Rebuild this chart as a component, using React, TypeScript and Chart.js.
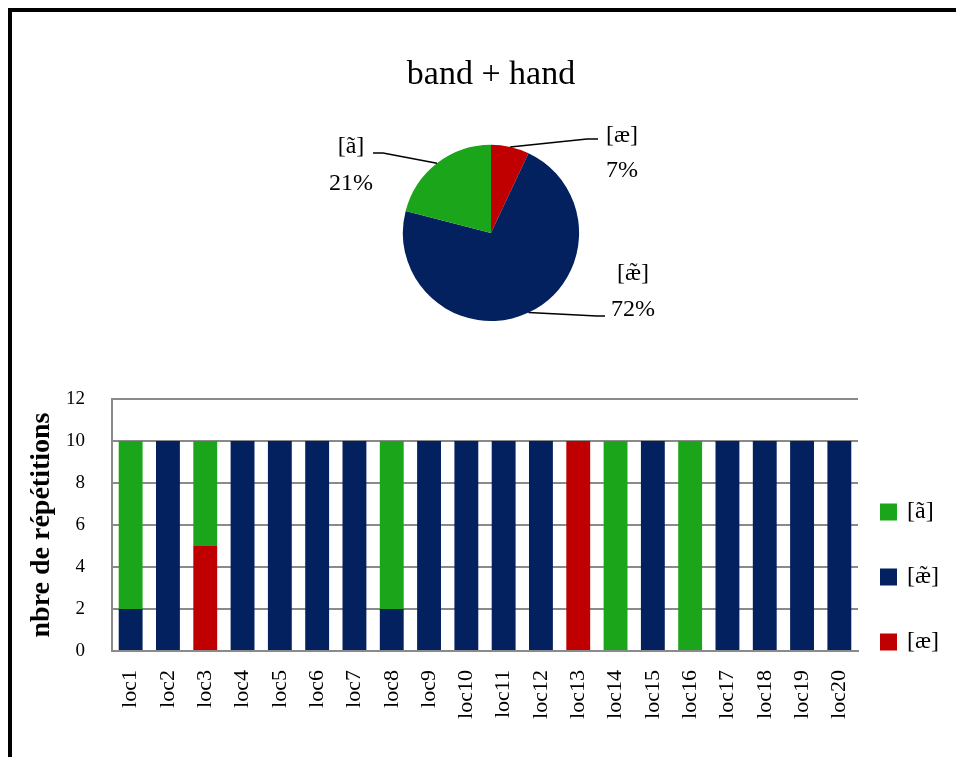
import React, { useEffect, useRef } from "react";
import { Chart, registerables } from "chart.js";

Chart.register(...registerables);

const FONT = "'Liberation Serif', 'Times New Roman', serif";

// ---------- data ----------
const categories = [
  "loc1", "loc2", "loc3", "loc4", "loc5", "loc6", "loc7", "loc8", "loc9", "loc10",
  "loc11", "loc12", "loc13", "loc14", "loc15", "loc16", "loc17", "loc18", "loc19", "loc20",
];
// stacked bottom -> top: [æ], [æ̃], [ã]
const seriesAe = [0, 0, 5, 0, 0, 0, 0, 0, 0, 0, 0, 0, 10, 0, 0, 0, 0, 0, 0, 0];
const seriesAeNasal = [2, 10, 0, 10, 10, 10, 10, 2, 10, 10, 10, 10, 0, 0, 10, 0, 10, 10, 10, 10];
const seriesANasal = [8, 0, 5, 0, 0, 0, 0, 8, 0, 0, 0, 0, 0, 10, 0, 10, 0, 0, 0, 0];
const yTicks = [0, 2, 4, 6, 8, 10, 12];

const pieLabels = ["[æ]", "[æ̃]", "[ã]"];
const pieValues = [7, 72, 21];

const pieTitle = "band + hand";
const yAxisTitle = "nbre de répétitions";

const COLOR_AE = "#C00000";
const COLOR_AE_NASAL = "#03205F";
const COLOR_A_NASAL = "#1AA51A";
const GRID = "#8a8a8a";

// ---------- pie label layout (offsets from pie centre, px) ----------
const pieLabelLayout = [
  { elbow: [96, -94], end: [107, -94], tx: 131, ty1: -97, ty2: -62 },
  { elbow: [106, 83], end: [114, 83], tx: 142, ty1: 41, ty2: 77 },
  { elbow: [-108, -80], end: [-118, -80], tx: -140, ty1: -86, ty2: -49 },
];

const pieLabelsPlugin = {
  id: "pieLabels",
  afterDatasetsDraw(chart: any) {
    const ctx = chart.ctx;
    const meta = chart.getDatasetMeta(0);
    const data = chart.data.datasets[0].data as number[];
    const total = data.reduce((a, b) => a + b, 0);
    meta.data.forEach((arc: any, i: number) => {
      const { x, y, startAngle, endAngle, outerRadius } = arc.getProps(
        ["x", "y", "startAngle", "endAngle", "outerRadius"],
        true
      );
      const mid = (startAngle + endAngle) / 2;
      const ex = x + outerRadius * Math.cos(mid);
      const ey = y + outerRadius * Math.sin(mid);
      const L = pieLabelLayout[i];
      ctx.save();
      ctx.strokeStyle = "#000";
      ctx.lineWidth = 1.5;
      ctx.beginPath();
      ctx.moveTo(ex, ey);
      ctx.lineTo(x + L.elbow[0], y + L.elbow[1]);
      ctx.lineTo(x + L.end[0], y + L.end[1]);
      ctx.stroke();
      ctx.fillStyle = "#000";
      ctx.font = `24px ${FONT}`;
      ctx.textAlign = "center";
      ctx.textBaseline = "middle";
      ctx.fillText(chart.data.labels[i], x + L.tx, y + L.ty1);
      ctx.fillText(Math.round((data[i] / total) * 100) + "%", x + L.tx, y + L.ty2);
      ctx.restore();
    });
  },
};

// ---------- bar legend (drawn beside the plot) ----------
const legendLayout = { boxX: 22, textX: 49, box: 17, rows: [113, 178, 243] };

const sideLegendPlugin = {
  id: "sideLegend",
  afterDraw(chart: any) {
    const { ctx, chartArea } = chart;
    const ds = chart.data.datasets.slice().reverse();
    ctx.save();
    ds.forEach((d: any, i: number) => {
      const cy = chartArea.top + legendLayout.rows[i];
      ctx.fillStyle = d.backgroundColor;
      ctx.fillRect(
        chartArea.right + legendLayout.boxX,
        cy - legendLayout.box / 2,
        legendLayout.box,
        legendLayout.box
      );
      ctx.fillStyle = "#000";
      ctx.font = `24px ${FONT}`;
      ctx.textAlign = "left";
      ctx.textBaseline = "middle";
      ctx.fillText(d.label, chartArea.right + legendLayout.textX, cy);
    });
    ctx.restore();
  },
};

function PieChart() {
  const ref = useRef<HTMLCanvasElement | null>(null);
  useEffect(() => {
    if (!ref.current) return;
    const chart = new Chart(ref.current, {
      type: "pie",
      data: {
        labels: pieLabels,
        datasets: [
          {
            data: pieValues,
            backgroundColor: [COLOR_AE, COLOR_AE_NASAL, COLOR_A_NASAL],
            borderWidth: 0,
          },
        ],
      },
      options: {
        responsive: false,
        animation: false,
        layout: { padding: { left: 6, right: 0, top: 0, bottom: 21 } },
        plugins: {
          legend: { display: false },
          tooltip: { enabled: false },
          title: {
            display: true,
            text: pieTitle,
            color: "#000",
            font: { family: FONT, size: 34, weight: "normal", lineHeight: 1.2 },
            padding: { top: 43, bottom: 49 },
          },
        },
      },
      plugins: [pieLabelsPlugin],
    } as any);
    return () => chart.destroy();
  }, []);
  return (
    <canvas
      ref={ref}
      width={952}
      height={330}
      style={{ position: "absolute", left: 0, top: 0, display: "block" }}
    />
  );
}

function BarChart() {
  const ref = useRef<HTMLCanvasElement | null>(null);
  useEffect(() => {
    if (!ref.current) return;
    const common = { borderWidth: 0, barPercentage: 0.64, categoryPercentage: 1 };
    const chart = new Chart(ref.current, {
      type: "bar",
      data: {
        labels: categories,
        datasets: [
          { label: "[æ]", data: seriesAe, backgroundColor: COLOR_AE, ...common },
          { label: "[æ̃]", data: seriesAeNasal, backgroundColor: COLOR_AE_NASAL, ...common },
          { label: "[ã]", data: seriesANasal, backgroundColor: COLOR_A_NASAL, ...common },
        ],
      },
      options: {
        responsive: false,
        animation: false,
        layout: { padding: { top: 19, right: 106, bottom: 0, left: 0 } },
        plugins: {
          legend: { display: false },
          tooltip: { enabled: false },
        },
        scales: {
          x: {
            stacked: true,
            grid: { display: false, drawTicks: false },
            border: { display: true, color: GRID, width: 2 },
            ticks: {
              autoSkip: false,
              maxRotation: 90,
              minRotation: 90,
              padding: 19,
              color: "#000",
              font: { family: FONT, size: 22 },
            },
            afterFit: (s: any) => {
              s.height = 114;
            },
          },
          y: {
            stacked: true,
            min: yTicks[0],
            max: yTicks[yTicks.length - 1],
            ticks: {
              stepSize: yTicks[1] - yTicks[0],
              padding: 27,
              color: "#000",
              font: { family: FONT, size: 19 },
            },
            grid: { color: GRID, drawTicks: false, lineWidth: 2 },
            border: { display: true, color: GRID, width: 2 },
            title: {
              display: true,
              text: yAxisTitle,
              color: "#000",
              font: { family: FONT, size: 28, weight: "bold", lineHeight: 1.2 },
              padding: { top: 13, bottom: 0 },
            },
            afterFit: (s: any) => {
              s.width = 100;
              s.paddingTop = 0;
              s.paddingBottom = 0;
            },
          },
        },
      },
      plugins: [sideLegendPlugin],
    } as any);
    return () => chart.destroy();
  }, []);
  return (
    <canvas
      ref={ref}
      width={952}
      height={385}
      style={{ position: "absolute", left: 0, top: 368, display: "block" }}
    />
  );
}

export default function App() {
  return (
    <div
      style={{
        position: "relative",
        borderTop: "4px solid #000",
        borderLeft: "4px solid #000",
        width: 952,
        height: 753,
        marginBottom: -8,
        overflow: "hidden",
        background: "#fff",
      }}
    >
      <PieChart />
      <BarChart />
    </div>
  );
}
